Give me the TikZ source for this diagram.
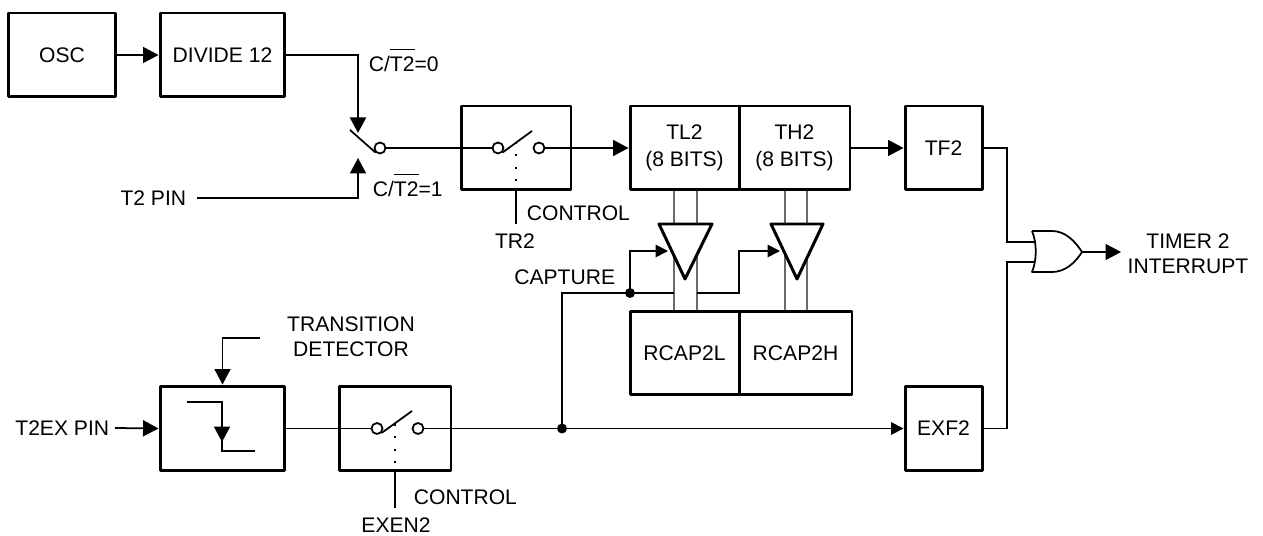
\documentclass[tikz,border=0pt]{standalone}
\usepackage{fontspec}
\setmainfont{Liberation Sans}
\usetikzlibrary{arrows.meta}
\tikzset{every path/.style={line width=1pt,line join=miter},
  every node/.style={inner sep=0pt,font=\fontsize{12}{14}\selectfont,align=center},
  block/.style={draw,line width=1.7pt,line join=round,minimum width=#1},
  block/.default=2.2cm,
  term/.style={draw,circle,minimum size=0.22cm,line width=1pt},
  dotnode/.style={fill,circle,minimum size=0.2cm},
  bigarrow/.style={-{Triangle[length=0.31cm,width=0.32cm]}},
  smallarrow/.style={-{Triangle[length=0.25cm,width=0.25cm]}},
  busline/.style={draw=black!58,line width=1pt},
  buffer/.style={draw,fill=white,line width=1.7pt,line join=round},
  ctrldots/.style={dash pattern=on 1.1pt off 6pt,line width=1.1pt}}
\newcommand{\ctbar}{C/$\overline{\mbox{\rule{0pt}{11.6pt}T2}}$}

\begin{document}
\begin{tikzpicture}[x=0.02cm,y=-0.02cm]
     \useasboundingbox (0,0) rectangle (1263,536);
     % top row
     \node[block=2.16cm,minimum height=1.68cm] (osc) at (62,55) {OSC};
     \node[block=2.5cm,minimum height=1.68cm] (div) at (222.5,55) {DIVIDE 12};
     \node[block=2.2cm,minimum height=1.68cm] (tr2box) at (516,148) {};
     \node[block=2.18cm,minimum height=1.68cm] (tl2) at (684.5,148) {TL2\\[1pt](8 BITS)};
     \node[block=2.22cm,minimum height=1.68cm] (th2) at (794.5,148) {TH2\\[1pt](8 BITS)};
     \node[block=1.54cm,minimum height=1.68cm] (tf2) at (943.5,148) {TF2};
     % capture registers
     \node[block=2.18cm,minimum height=1.68cm] (rcl) at (684.5,353) {RCAP2L};
     \node[block=2.26cm,minimum height=1.68cm] (rch) at (795.5,353) {RCAP2H};
     % bottom row
     \node[block=2.5cm,minimum height=1.7cm] (det) at (222.5,428.5) {};
     \node[block=2.24cm,minimum height=1.7cm] (enbox) at (395,428.5) {};
     \node[block=1.54cm,minimum height=1.7cm] (exf2) at (943.5,428.5) {EXF2};
     % switch contacts
     \node[term] (sw) at (380,148) {};
     \node[term] (tra) at (498,148) {};
     \node[term] (trb) at (539,148) {};
     \node[term] (ena) at (377,428.5) {};
     \node[term] (enb) at (418,428.5) {};
     \node[dotnode] (capdot) at (630,293) {};
     \node[dotnode] (exdot) at (562,428.5) {};
     % labels
     \node[anchor=east] (t2pin) at (187,198) {T2 PIN};
     \node[anchor=east] (t2ex) at (110,428) {T2EX PIN};
     \node[anchor=base west] at (368,72) {\ctbar=0};
     \node[anchor=base west] at (372,197) {\ctbar=1};
     \node[anchor=west] (ctrla) at (526,213) {CONTROL};
     \node[anchor=west] (ctrlb) at (413,497) {CONTROL};
     \node (tr2) at (515,241) {TR2};
     \node (exen2) at (396,525) {EXEN2};
     \node[anchor=east] (capture) at (616,277) {CAPTURE};
     \node (trans) at (351,337) {TRANSITION\\DETECTOR};
     \node (tmr) at (1188,254) {TIMER 2\\INTERRUPT};
     % data paths between the registers
     \draw[busline] ([xshift=-0.21cm]tl2.south) -- ([xshift=-0.21cm]rcl.north);
     \draw[busline] ([xshift=0.25cm]tl2.south) -- ([xshift=0.25cm]rcl.north);
     \draw[busline] ([xshift=-0.19cm]th2.south) -- ([xshift=-0.19cm]th2.south |- rch.north);
     \draw[busline] ([xshift=0.25cm]th2.south) -- ([xshift=0.25cm]th2.south |- rch.north);
     \draw[buffer] (659,224) -- (712,224) -- (685,279) -- cycle;
     \draw[buffer] (771,224) -- (823,224) -- (797,279) -- cycle;
     \coordinate (gatea) at (668,251);
     \coordinate (gateb) at (780,251);
     \coordinate (capleft) at (674,293);
     \coordinate (capright) at (697,293);
     % top wires
     \draw[bigarrow] (osc.east) -- (div.west);
     \coordinate (swtop) at (358,133);
     \coordinate (swbot) at (358,158);
     \draw[bigarrow] (div.east) -| (swtop);
     \draw[bigarrow] (t2pin.east) ++(10,0) -| (swbot);
     \draw (350,130) -- (sw.south west);
     \draw (sw.east) -- (tra.west);
     \draw (tra.south east) -- (532,131);
     \draw[bigarrow] (trb.east) -- (tl2.west);
     \draw[ctrldots] (516,142) -- (tr2box.south);
     \draw (tr2box.south) -- (516,224);
     \draw[bigarrow] (th2.east) -- (tf2.west);
     % capture wires
     \draw (exdot.center) -- (562,293) -- (capleft);
     \draw[smallarrow] (capdot.center) |- (gatea);
     \draw[smallarrow] (capright) -- (739,293) |- (gateb);
     % bottom wires
     \draw[bigarrow] (t2ex.east) ++(5,0) -- (det.west);
     \coordinate (detin) at (260,338);
     \draw[bigarrow] (detin) -| (det.north);
     \draw (187,402) -- (222,402) -- (222,451) -- (255,451);
     \draw[bigarrow] (222,402) -- (222,442);
     \draw (det.east) -- (ena.west);
     \draw (ena.south east) -- (412,411);
     \draw[ctrldots] (395,424) -- (enbox.south);
     \draw (enbox.south) -- (395,508);
     \draw[smallarrow] (enb.east) -- (exf2.west);
     % output gate
     \coordinate (orin1) at (1034,242);
     \coordinate (orin2) at (1034,262);
     \coordinate (orout) at (1082,252);
     \coordinate (tmrtip) at (1121,252);
     \draw (tf2.east) -| (1007,200) |- (orin1);
     \draw (exf2.east) -| (1007,300) |- (orin2);
     \draw[line join=round] (1032,231) -- (1052,231) .. controls (1065,231) and (1075,241) .. (orout)
        .. controls (1075,263) and (1065,272) .. (1052,272) -- (1032,272)
        .. controls (1037,260) and (1037,243) .. (1032,231);
     \draw[bigarrow] (orout) -- (tmrtip);
    \end{tikzpicture}
\end{document}
